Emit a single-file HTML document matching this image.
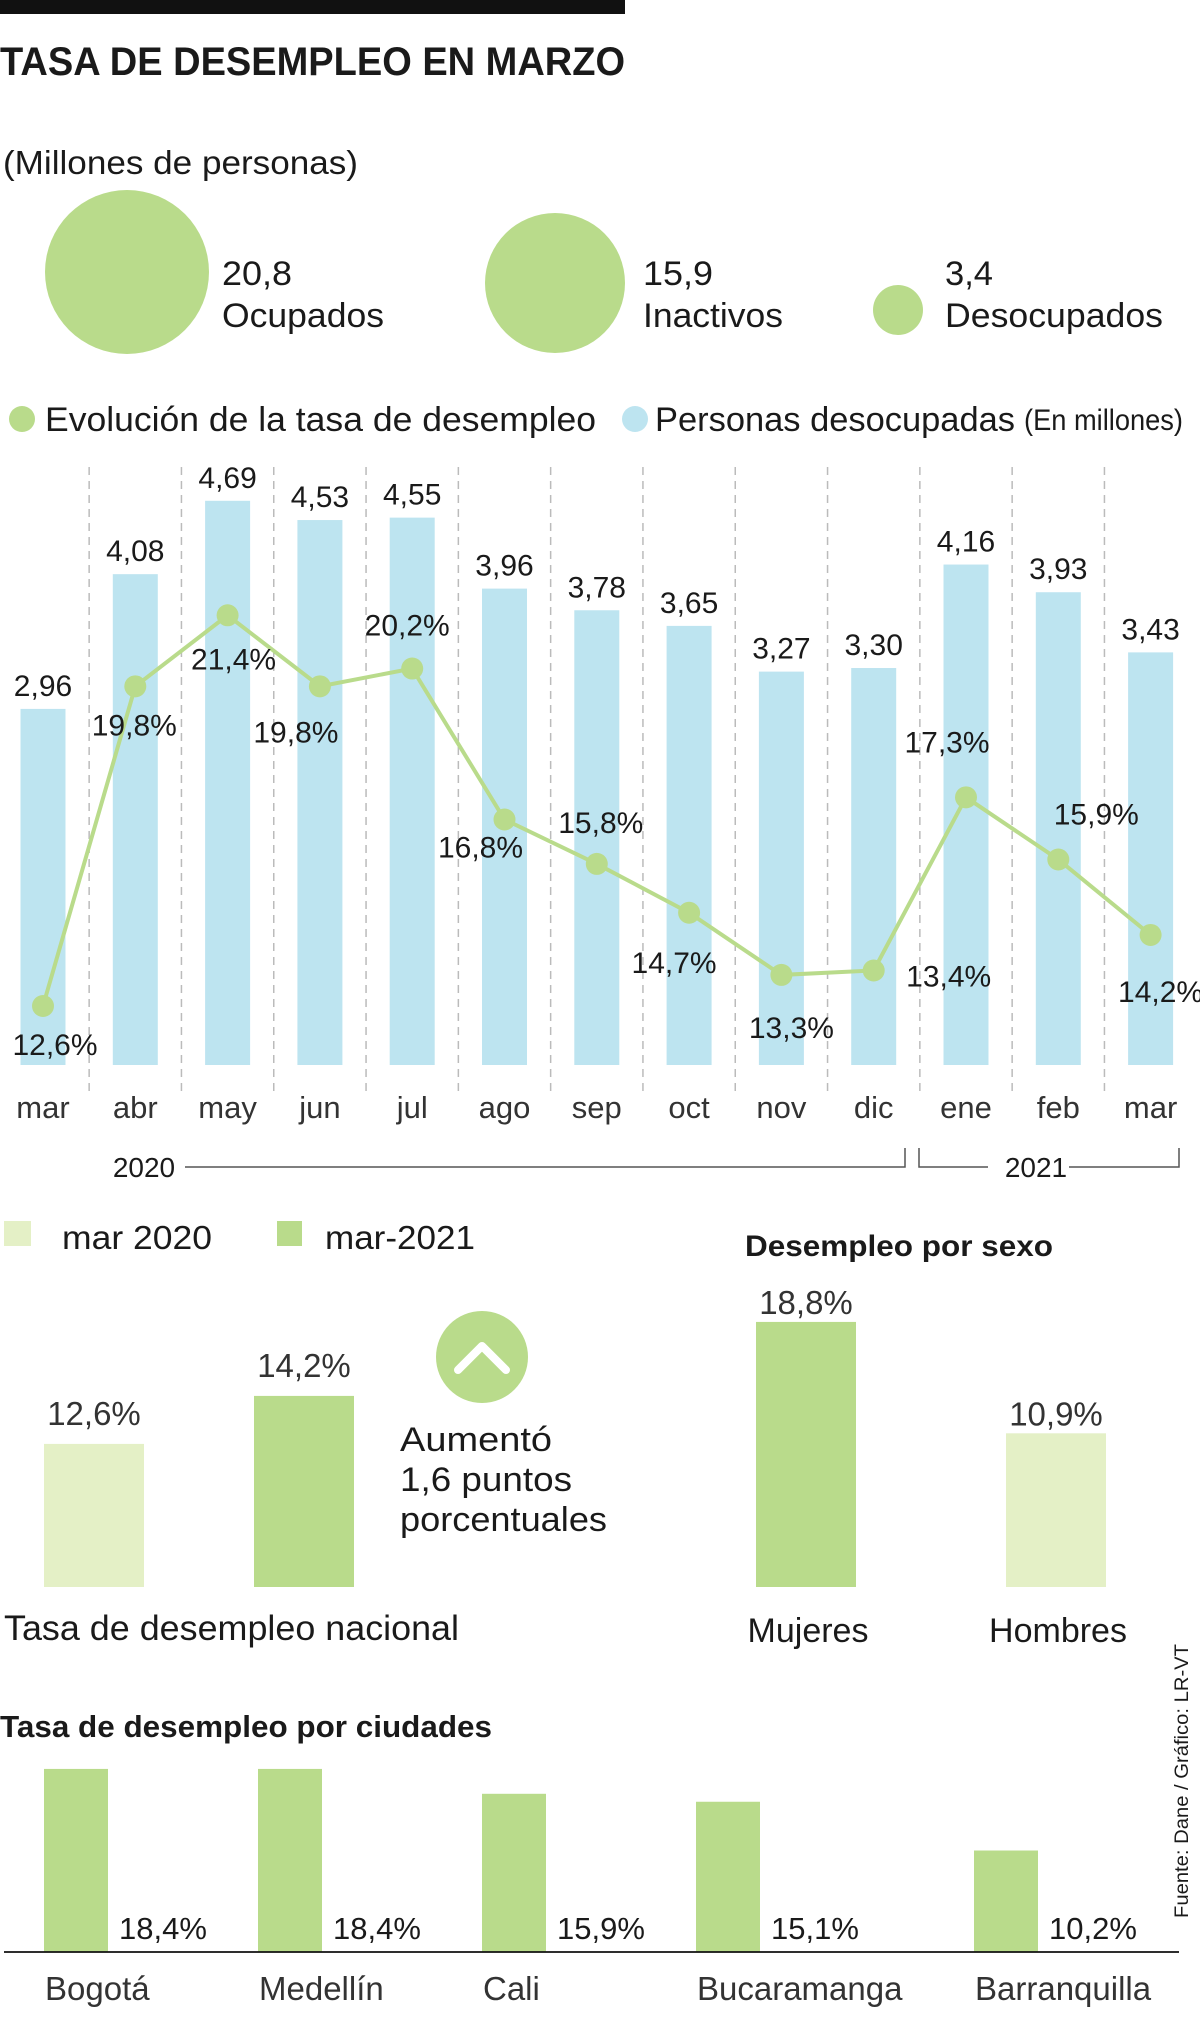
<!DOCTYPE html>
<html><head><meta charset="utf-8">
<style>
html,body{margin:0;padding:0;background:#fff;}
svg{display:block;font-family:"Liberation Sans",sans-serif;}
.t{fill:#1a1a1a;}
</style></head>
<body>
<svg id="root" width="1200" height="2019" viewBox="0 0 1200 2019" xmlns="http://www.w3.org/2000/svg">
  <rect x="0" y="0" width="625" height="14" fill="#111"/>
  <text class="t" x="0" y="75" font-size="40" font-weight="bold" textLength="625" lengthAdjust="spacingAndGlyphs">TASA DE DESEMPLEO EN MARZO</text>
  <text class="t" x="3" y="174" font-size="33" textLength="355" lengthAdjust="spacingAndGlyphs">(Millones de personas)</text>

  <g>
    <circle cx="127" cy="272" r="82" fill="#b9db8b"/>
    <text class="t" x="222" y="285" font-size="34" textLength="70" lengthAdjust="spacingAndGlyphs">20,8</text>
    <text class="t" x="222" y="327" font-size="34" textLength="162" lengthAdjust="spacingAndGlyphs">Ocupados</text>
    <circle cx="555" cy="283" r="70" fill="#b9db8b"/>
    <text class="t" x="643" y="285" font-size="34" textLength="70" lengthAdjust="spacingAndGlyphs">15,9</text>
    <text class="t" x="643" y="327" font-size="34" textLength="140" lengthAdjust="spacingAndGlyphs">Inactivos</text>
    <circle cx="898" cy="310" r="25" fill="#b9db8b"/>
    <text class="t" x="945" y="285" font-size="34" textLength="48" lengthAdjust="spacingAndGlyphs">3,4</text>
    <text class="t" x="945" y="327" font-size="34" textLength="218" lengthAdjust="spacingAndGlyphs">Desocupados</text>
  </g>

  <g>
    <circle cx="22" cy="419" r="13" fill="#b9db8b"/>
    <text class="t" x="45" y="431" font-size="34" textLength="551" lengthAdjust="spacingAndGlyphs">Evolución de la tasa de desempleo</text>
    <circle cx="635" cy="419" r="13" fill="#bde4f0"/>
    <text class="t" x="655" y="431" font-size="34" textLength="360" lengthAdjust="spacingAndGlyphs">Personas desocupadas</text>
    <text class="t" x="1024" y="430" font-size="30" textLength="159" lengthAdjust="spacingAndGlyphs">(En millones)</text>
  </g>

  <g id="main-chart"></g>

  <g>
    <text class="t" x="144" y="1177" font-size="28" text-anchor="middle" fill="#333">2020</text>
    <path d="M185 1167 H905 V1148" fill="none" stroke="#555" stroke-width="1.5"/>
    <path d="M919 1148 V1167 H988" fill="none" stroke="#555" stroke-width="1.5"/>
    <text class="t" x="1036" y="1177" font-size="28" text-anchor="middle" fill="#333">2021</text>
    <path d="M1069 1167 H1179 V1148" fill="none" stroke="#555" stroke-width="1.5"/>
  </g>

  <g>
    <rect x="4" y="1221" width="27" height="25" fill="#e4f0c6"/>
    <text class="t" x="62" y="1249" font-size="33" textLength="150" lengthAdjust="spacingAndGlyphs">mar 2020</text>
    <rect x="277" y="1221" width="25" height="25" fill="#b9db8b"/>
    <text class="t" x="325" y="1249" font-size="33" textLength="150" lengthAdjust="spacingAndGlyphs">mar-2021</text>
  </g>
  <text class="t" x="745" y="1256" font-size="30" font-weight="bold" textLength="308" lengthAdjust="spacingAndGlyphs">Desempleo por sexo</text>

  <g id="national-chart"></g>
  <g>
    <circle cx="482" cy="1357" r="46" fill="#b9db8b"/>
    <path d="M458 1370 L482 1346 L506 1370" fill="none" stroke="#fff" stroke-width="8" stroke-linecap="round" stroke-linejoin="round"/>
    <text class="t" x="400" y="1451" font-size="34" textLength="152" lengthAdjust="spacingAndGlyphs">Aumentó</text>
    <text class="t" x="400" y="1491" font-size="34" textLength="172" lengthAdjust="spacingAndGlyphs">1,6 puntos</text>
    <text class="t" x="400" y="1531" font-size="34" textLength="207" lengthAdjust="spacingAndGlyphs">porcentuales</text>
  </g>
  <text class="t" x="4" y="1640" font-size="35" textLength="455" lengthAdjust="spacingAndGlyphs">Tasa de desempleo nacional</text>

  <g id="sex-chart"></g>

  <text class="t" x="0" y="1737" font-size="31" font-weight="bold" textLength="492" lengthAdjust="spacingAndGlyphs">Tasa de desempleo por ciudades</text>
  <g id="city-chart"></g>
  <line x1="4" y1="1952" x2="1179" y2="1952" stroke="#111" stroke-width="1.8"/>

  <text class="t" transform="translate(1188,1918) rotate(-90)" font-size="19" textLength="274" lengthAdjust="spacingAndGlyphs">Fuente: Dane / Gráfico: LR-VT</text>
</svg>
<script>
const months = ["mar","abr","may","jun","jul","ago","sep","oct","nov","dic","ene","feb","mar"];
const peopleValues = [2.96,4.08,4.69,4.53,4.55,3.96,3.78,3.65,3.27,3.30,4.16,3.93,3.43];
const peopleLabels = ["2,96","4,08","4,69","4,53","4,55","3,96","3,78","3,65","3,27","3,30","4,16","3,93","3,43"];
const rateValues = [12.6,19.8,21.4,19.8,20.2,16.8,15.8,14.7,13.3,13.4,17.3,15.9,14.2];
const rateLabels = ["12,6%","19,8%","21,4%","19,8%","20,2%","16,8%","15,8%","14,7%","13,3%","13,4%","17,3%","15,9%","14,2%"];
const nationalCats = ["mar 2020","mar-2021"];
const nationalValues = [12.6,14.2];
const nationalLabels = ["12,6%","14,2%"];
const sexCats = ["Mujeres","Hombres"];
const sexValues = [18.8,10.9];
const sexLabels = ["18,8%","10,9%"];
const cities = ["Bogotá","Medellín","Cali","Bucaramanga","Barranquilla"];
const cityValues = [18.4,18.4,15.9,15.1,10.2];
const cityLabels = ["18,4%","18,4%","15,9%","15,1%","10,2%"];

const NS = "http://www.w3.org/2000/svg";
function mk(tag, attrs, parent){const e=document.createElementNS(NS,tag);for(const k in attrs)e.setAttribute(k,attrs[k]);parent.appendChild(e);return e;}

// main chart
const main = document.getElementById("main-chart");
const xC = i => 43 + i*92.3;
const yBar = v => 1065 - v*120.3;
const yRate = v => 1006 - (v-12.6)*44.4;
const lblDx = [12,-1,6,-24,-5,-24,4,-15,10,75,-19,38,10];
const lblDy = [49,49,54,56,-33,38,-31,60,63,16,-45,-35,67];

for(let i=1;i<months.length;i++){
  const sx = (xC(i-1)+xC(i))/2;
  const d = mk("line",{x1:sx,y1:467,x2:sx,y2:1095,stroke:"#bbb","stroke-width":1.5,"stroke-dasharray":"8 6"},main);
  
  
}
months.forEach((m,i)=>{
  const x=xC(i), v=peopleValues[i];
  const b = mk("rect",{x:x-22.5,y:yBar(v),width:45,height:1065-yBar(v),fill:"#bde4f0"},main);
  
  
  const t = mk("text",{x:x,y:yBar(v)-13,"font-size":30,"text-anchor":"middle",fill:"#1a1a1a"},main);
  t.textContent = peopleLabels[i];
  
  
  const ml = mk("text",{x:x,y:1118,"font-size":31,"text-anchor":"middle",fill:"#333"},main);
  ml.textContent = m;
  
  
});
const pts = rateValues.map((v,i)=>xC(i)+","+yRate(v)).join(" ");
const pl = mk("polyline",{points:pts,fill:"none",stroke:"#b9db8b","stroke-width":4},main);


rateValues.forEach((v,i)=>{
  const c = mk("circle",{cx:xC(i),cy:yRate(v),r:11,fill:"#b9db8b"},main);
  
  
  const t = mk("text",{x:xC(i)+lblDx[i],y:yRate(v)+lblDy[i],"font-size":30,"text-anchor":"middle",fill:"#1a1a1a"},main);
  t.textContent = rateLabels[i];
  
  
});

// national chart
const nat = document.getElementById("national-chart");
const natX = i => 44 + i*210;
const natY = v => 1587 - (v-7.83)*30;
const natFill = ["#e4f0c6","#b9db8b"];
nationalValues.forEach((v,i)=>{
  const b = mk("rect",{x:natX(i),y:natY(v),width:100,height:1587-natY(v),fill:natFill[i]},nat);
  
  
  const t = mk("text",{x:natX(i)+50,y:natY(v)-19,"font-size":33,"text-anchor":"middle",fill:"#333"},nat);
  t.textContent = nationalLabels[i];
  
  
});

// sex chart
const sex = document.getElementById("sex-chart");
const sexX = i => 756 + i*250;
const sexY = v => 1587 - v*14.1;
const sexFill = ["#b9db8b","#e4f0c6"];
sexValues.forEach((v,i)=>{
  const b = mk("rect",{x:sexX(i),y:sexY(v),width:100,height:1587-sexY(v),fill:sexFill[i]},sex);
  
  
  const t = mk("text",{x:sexX(i)+50,y:sexY(v)-8,"font-size":33,"text-anchor":"middle",fill:"#333"},sex);
  t.textContent = sexLabels[i];
  
  
  const c = mk("text",{x:sexX(i)+52,y:1642,"font-size":34,"text-anchor":"middle",fill:"#1a1a1a"},sex);
  c.textContent = sexCats[i];
  
  
});

// city chart: each slot is wide enough for its name label
const city = document.getElementById("city-chart");
const cityY = v => 1952 - v*9.95;
let cx = 44;
cities.forEach((name,i)=>{
  const v = cityValues[i];
  const b = mk("rect",{x:cx,y:cityY(v),width:64,height:1952-cityY(v),fill:"#b9db8b"},city);
  
  
  const t = mk("text",{x:cx+75,y:1939,"font-size":31,fill:"#1a1a1a"},city);
  t.textContent = cityLabels[i];
  
  
  const c = mk("text",{x:cx+1,y:2000,"font-size":33,fill:"#333"},city);
  c.textContent = name;
  
  
  cx += Math.max(214, name.length*18 + 80);
});
</script>
</body></html>
